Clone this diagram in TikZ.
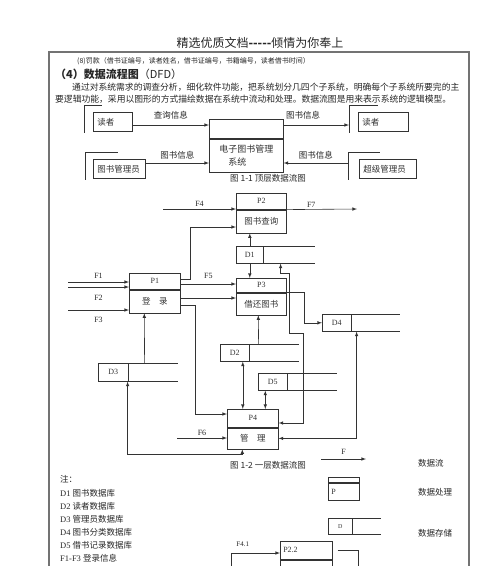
\documentclass[tikz,border=0pt]{standalone}
\usepackage{fontspec}
\setmainfont{Liberation Serif}
\newfontfamily\cjk{Noto Sans CJK SC}
\usetikzlibrary{positioning}

\begin{document}
\begin{tikzpicture}[
    x=1pt, y=-1pt,
    every node/.style={font=\fontsize{8}{10}\selectfont, text=black!85, inner sep=0pt},
    zh/.style={font=\cjk\fontsize{8.5}{10}\selectfont},
    wire/.style={black!80, line width=0.6pt},
    arr/.style={wire, -latex},
    dbl/.style={wire, latex-latex},
    pageframe/.style={black!55, line width=1.3pt},
    phead/.style={wire, draw, anchor=north west, minimum width=50pt, minimum height=16pt},
    pbody/.style={wire, draw, zh, minimum width=50pt, minimum height=23pt, below=0pt of #1},
    store/.style={wire, draw, anchor=north west, minimum width=29pt, minimum height=17pt,
        append after command={(\tikzlastnode.north west) edge[wire] ++(#1,0)
            (\tikzlastnode.south west) edge[wire] ++(#1,0)}},
    store/.default=79,
    entity/.style={wire, draw, zh, anchor=north west, minimum height=19pt, inner xsep=4pt,
        text width=#1, align=left}
]
\useasboundingbox (0,0) rectangle (500,566);

% page text
\node[font=\cjk\fontsize{12}{14}\selectfont] (head) at (260,43) {精选优质文档{\bfseries -----}倾情为你奉上};
\draw[pageframe] (49,570) |- (469,52) -- (469,570);
\node[anchor=west, font=\cjk\fontsize{7}{8}\selectfont] (fine) at (77,61) {(8)罚款（借书证编号，读者姓名，借书证编号，书籍编号，读者借书时间）};
\node[anchor=west, font=\cjk\fontsize{11}{12}\selectfont] (sec) at (55,74) {{\bfseries（4）数据流程图}（DFD）};
\node[anchor=west, font=\cjk\fontsize{8.8}{10}\selectfont] (intro1) at (72,87) {通过对系统需求的调查分析，细化软件功能，把系统划分几四个子系统，明确每个子系统所要完的主};
\node[anchor=west, font=\cjk\fontsize{8.8}{10}\selectfont] (intro2) at (55,99) {要逻辑功能，采用以图形的方式描绘数据在系统中流动和处理。数据流图是用来表示系统的逻辑模型。};

% top level
\node[entity=31pt] (rdl) at (93,112) {读者};
\node[entity=42pt] (rdr) at (358,112) {读者};
\node[entity=44pt] (mgr) at (93,159) {图书管理员};
\node[entity=49pt] (adm) at (359,159) {超级管理员};
\draw[wire] ([xshift=-9pt, yshift=-1pt]rdl.south west) |- ([xshift=9pt, yshift=7pt]rdl.north west);
\draw[wire] ([xshift=-9pt, yshift=-1pt]rdr.south west) |- ([xshift=20pt, yshift=7pt]rdr.north west);
\draw[wire] ([xshift=-8pt, yshift=-1pt]mgr.south west) |- ([xshift=25pt, yshift=7pt]mgr.north west);
\draw[wire] ([xshift=-11pt, yshift=-1pt]adm.south west) |- ([xshift=21pt, yshift=7pt]adm.north west);
\node[phead, minimum width=74pt, minimum height=19pt] (sys) at (209,119) {};
\node[pbody=sys, minimum width=74pt, minimum height=33pt, align=left, font=\cjk\fontsize{9}{13}\selectfont] (sysb) {电子图书管理\\\hspace*{9pt}系统};
\draw[arr] (rdl.east |- 0,125) -- (sys.west |- 0,125) node[zh, midway, above=5pt] {查询信息};
\draw[arr] (sys.east |- 0,125) -- ([xshift=-9pt]rdr.west |- 0,125) node[zh, pos=0.3, above=5pt] {图书信息};
\draw[arr] (mgr.east |- 0,163) -- (sysb.west |- 0,163) node[zh, midway, above=4pt] {图书信息};
\draw[arr] ([xshift=-11pt]adm.west |- 0,163) -- (sysb.east |- 0,163) node[zh, midway, above=4pt] {图书信息};
\node[zh] (cap1) at (268,178) {图 1-1 顶层数据流图};

% first level
\node[phead] (p2) at (236,193) {P2};
\node[pbody=p2] (p2b) {图书查询};
\node[phead, minimum width=51pt] (p1) at (129,273) {P1};
\node[pbody=p1, minimum width=51pt] (p1b) {登\quad 录};
\node[phead, minimum height=14pt] (p3) at (236,278) {P3};
\node[pbody=p3, minimum height=22pt] (p3b) {借还图书};
\node[phead, minimum width=51pt, minimum height=18pt] (p4) at (227,409) {P4};
\node[pbody=p4, minimum width=51pt, minimum height=21pt] (p4b) {管\quad 理};

\node[store, minimum width=27pt] (d1) at (236,246) {D1};
\node[store] (d2) at (220,344) {D2};
\node[store=80, minimum width=30pt, minimum height=18pt] (d3) at (98,363) {D3};
\node[store=78] (d4) at (322,314) {D4};
\node[store] (d5) at (258,373) {D5};

\coordinate (f4) at (163,209);
\coordinate (f7) at (357,209);
\coordinate (f1a) at (68,282);
\coordinate (f1b) at (68,287);
\coordinate (f3) at (68,310);
\coordinate (f6) at (177,438);

\draw[arr] (f4) -- (f4 -| p2.west) node[midway, above=2pt] {F4};
\draw[arr] (p2.south east) -- (f7) node[pos=0.35, above=2pt] {F7};
\draw[arr] (p1.east |- 0,279) -- ++(10,0) |- (p2b.west |- 0,227);
\draw[arr] (f1a) -- (f1a -| p1.west) node[midway, above=3pt] {F1};
\draw[arr] (f1b) -- (f1b -| p1.west) node[midway, below=8pt] {F2};
\draw[arr] (f3) -- (f3 -| p1b.west) node[midway, below=7pt] {F3};
\draw[arr] (p1.east |- 0,284) -- (p3.west |- 0,284) node[midway, above=5pt] {F5};
\draw[arr] (p1b.east |- 0,298) -- (p3b.west |- 0,298);
\draw[arr] (p1b.east |- 0,305) -- ++(15,0) |- (p4.west |- 0,414);
\draw[arr] (d1.north) -- (d1.north |- p2b.south);
\draw[arr] (d1.south) -- (d1.south |- p3.north);
\draw[arr] (p3.south east) -- ++(18,0) |- (d4.west);
\draw[dbl] ([xshift=5pt]d4.south east) |- (p4b.east);
\draw[dbl] ([xshift=17pt]d1.south east) -- ++(0,10) -- ++(9,0) -- ++(0,60) -- ++(14,0) |- (p4.east |- 0,423);
\draw[arr] ([xshift=9pt]d2.north east) -- ([xshift=-3pt]p3b.south);
\draw[dbl] ([xshift=8pt]d2.south) -- ([xshift=-10pt]p4.north);
\draw[dbl] ([xshift=-7.5pt]d5.south) -- ([xshift=12.5pt]p4.north);
\draw[arr] ([xshift=16pt]d3.north east) -- ([xshift=-10.5pt]p1b.south);
\draw[dbl] ([xshift=-10.5pt]p4b.south) -- ++(0,5) -| ([xshift=-1pt]d3.south east);
\draw[arr] (f6) -- (f6 -| p4b.west) node[midway, above=2pt] {F6};
\node[zh] (cap2) at (268,465) {图 1-2 一层数据流图};

% legend
\coordinate (lf1) at (321,459);
\coordinate (lf2) at (366,459);
\draw[arr] (lf1) -- (lf2) node[midway, above=4pt] {F};
\node[zh, anchor=west] (lflow) at (418,463) {数据流};
\node[phead, minimum width=31pt, minimum height=5pt] (lp) at (328,477) {};
\node[pbody=lp, minimum width=31pt, minimum height=17pt, font=\fontsize{8}{10}\selectfont, text width=25pt, inner xsep=3pt, align=left] (lpb) {P};
\node[zh, anchor=west] (lproc) at (418,492) {数据处理};
\node[store=53, minimum width=24pt, minimum height=16pt, font=\fontsize{6}{7}\selectfont] (ld) at (328,518) {D};
\node[zh, anchor=west] (lstore) at (418,533) {数据存储};

% notes
\node[zh, anchor=west] (n0) at (60,479) {注：};
\node[anchor=west, font=\fontsize{8.5}{10}\selectfont] (n1) at (60,493) {D1 {\cjk 图书数据库}};
\node[anchor=west, font=\fontsize{8.5}{10}\selectfont] (n2) at (60,506) {D2 {\cjk 读者数据库}};
\node[anchor=west, font=\fontsize{8.5}{10}\selectfont] (n3) at (60,519) {D3 {\cjk 管理员数据库}};
\node[anchor=west, font=\fontsize{8.5}{10}\selectfont] (n4) at (60,532) {D4 {\cjk 图书分类数据库}};
\node[anchor=west, font=\fontsize{8.5}{10}\selectfont] (n5) at (60,545) {D5 {\cjk 借书记录数据库}};
\node[anchor=west, font=\fontsize{8.5}{10}\selectfont] (n6) at (60,558) {F1-F3 {\cjk 登录信息}};

% second level (cut off)
\node[phead, minimum width=52pt, minimum height=18pt, text width=46pt, inner xsep=3pt, align=left] (p22) at (280,541) {P2.2};
\node[pbody=p22, minimum width=52pt, minimum height=20pt] (p22b) {};
\coordinate (f41) at (231,570);
\draw[arr] (f41) |- (p22.west |- 0,553) node[pos=0.62, above=6pt, font=\fontsize{7}{8}\selectfont] {F4.1};
\draw[wire] ([xshift=5pt]p22.east) -| ++(21,20);
\end{tikzpicture}
\end{document}
